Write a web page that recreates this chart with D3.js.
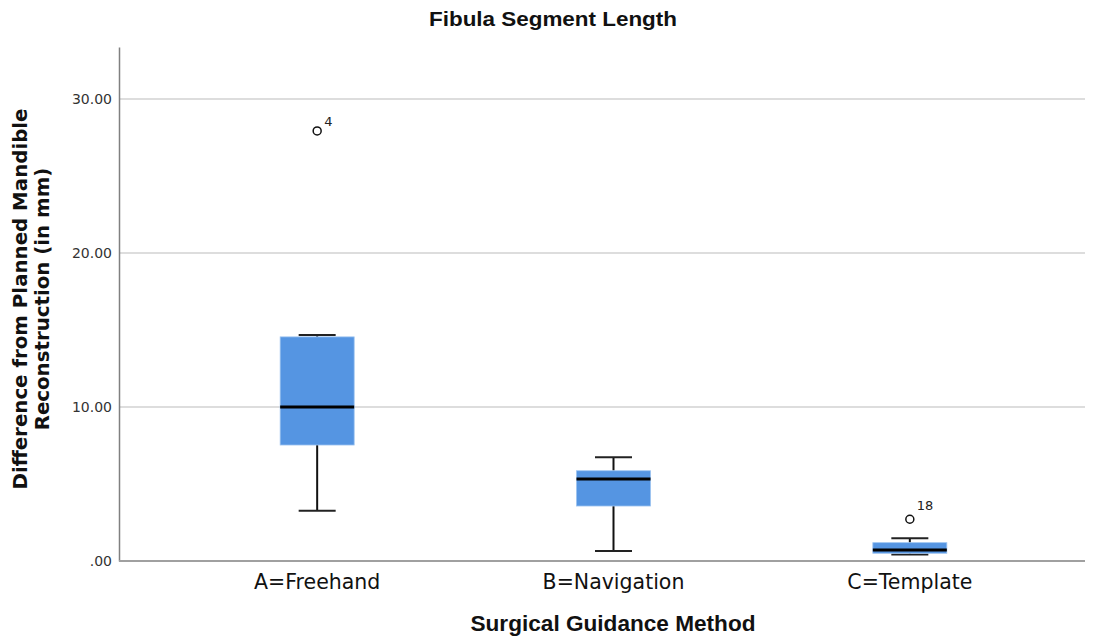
<!DOCTYPE html>
<html>
<head>
<meta charset="utf-8">
<script src="https://cdn.jsdelivr.net/npm/d3@7"></script>
<style>
  body { margin: 0; background: #fff; }
  svg { display: block; }
</style>
</head>
<body>
<svg id="chart" width="1100" height="639"></svg>
<script>
// Boxplot summary per guidance method (mm)
const categories = ["A=Freehand", "B=Navigation", "C=Template"];
const whiskerLow  = [3.27, 0.65, 0.43];
const quartile1   = [7.53, 3.57, 0.50];
const medians     = [10.0, 5.32, 0.71];
const quartile3   = [14.55, 5.86, 1.19];
const whiskerHigh = [14.68, 6.73, 1.47];
// Outliers: [category index, value, case label]
const outlierCat   = [0, 2];
const outlierVal   = [27.92, 2.71];
const outlierLabel = ["4", "18"];
const yTicks = [0, 10, 20, 30];

const svg = d3.select("#chart");
const plot = { left: 119, right: 1085, top: 47, bottom: 561 };

const y = d3.scaleLinear().domain([0, 33.37]).range([plot.bottom, plot.top]);
const x = d3.scaleBand().domain(categories).range([169, 1058]).paddingInner(0).paddingOuter(0);
const boxW = 74, capW = 37;
const cx = c => x(c) + x.bandwidth() / 2;

// gridlines
svg.append("g").selectAll("line").data(yTicks.filter(t => t > 0)).join("line")
  .attr("x1", plot.left).attr("x2", plot.right)
  .attr("y1", d => y(d)).attr("y2", d => y(d))
  .attr("stroke", "#d2d2d2").attr("stroke-width", 1.5);

// y axis
const yAxis = d3.axisLeft(y).tickValues(yTicks).tickSize(0).tickPadding(7)
  .tickFormat(d => d === 0 ? ".00" : d3.format(".2f")(d));
const gy = svg.append("g").attr("transform", `translate(${plot.left},0)`).call(yAxis);
gy.select(".domain").attr("stroke", "#808080").attr("stroke-width", 1.5);
gy.selectAll("text").attr("font-family", "DejaVu Sans").attr("font-size", 14).attr("fill", "#333");

// x axis line
svg.append("line").attr("x1", plot.left).attr("x2", plot.right)
  .attr("y1", plot.bottom).attr("y2", plot.bottom)
  .attr("stroke", "#a0a0a0").attr("stroke-width", 2);

// x tick labels
const xAxis = d3.axisBottom(x).tickSize(0).tickPadding(13);
const gx = svg.append("g").attr("transform", `translate(0,${plot.bottom})`).call(xAxis);
gx.select(".domain").remove();
gx.selectAll("text").attr("font-family", "DejaVu Sans").attr("font-size", 20.5).attr("fill", "#111");

// boxes
const idx = d3.range(categories.length);
const boxes = svg.append("g");
idx.forEach(i => {
  const c = cx(categories[i]);
  const g = boxes.append("g");
  // whisker stems
  g.append("line").attr("x1", c).attr("x2", c).attr("y1", y(whiskerLow[i])).attr("y2", y(quartile1[i]))
    .attr("stroke", "#111").attr("stroke-width", 2);
  g.append("line").attr("x1", c).attr("x2", c).attr("y1", y(quartile3[i])).attr("y2", y(whiskerHigh[i]))
    .attr("stroke", "#111").attr("stroke-width", 2);
  // caps
  [whiskerLow[i], whiskerHigh[i]].forEach(v => {
    g.append("line").attr("x1", c - capW / 2).attr("x2", c + capW / 2).attr("y1", y(v)).attr("y2", y(v))
      .attr("stroke", "#222").attr("stroke-width", 2);
  });
  // box
  g.append("rect").attr("x", c - boxW / 2).attr("width", boxW)
    .attr("y", y(quartile3[i])).attr("height", y(quartile1[i]) - y(quartile3[i]))
    .attr("fill", "#5595e2").attr("stroke", "#9cc3f0").attr("stroke-width", 0.8);
  // median
  g.append("line").attr("x1", c - boxW / 2).attr("x2", c + boxW / 2)
    .attr("y1", y(medians[i])).attr("y2", y(medians[i]))
    .attr("stroke", "#000").attr("stroke-width", 3);
});

// outliers
const labelLift = [5, 9];
outlierCat.forEach((ci, k) => {
  const c = cx(categories[ci]);
  svg.append("circle").attr("cx", c).attr("cy", y(outlierVal[k])).attr("r", 4)
    .attr("fill", "#fff").attr("stroke", "#111").attr("stroke-width", 1.5);
  svg.append("text").attr("x", c + 7).attr("y", y(outlierVal[k]) - labelLift[k])
    .attr("font-family", "DejaVu Sans").attr("font-size", 13).attr("fill", "#222")
    .text(outlierLabel[k]);
});

// titles
svg.append("text").attr("x", 553).attr("y", 26).attr("text-anchor", "middle")
  .attr("font-family", "Liberation Sans Narrow, Liberation Sans").attr("font-weight", "bold")
  .attr("font-size", 21).attr("textLength", 248).attr("lengthAdjust", "spacingAndGlyphs")
  .attr("fill", "#111").text("Fibula Segment Length");

svg.append("text").attr("x", 613).attr("y", 631).attr("text-anchor", "middle")
  .attr("font-family", "Liberation Sans Narrow, Liberation Sans").attr("font-weight", "bold")
  .attr("font-size", 22).attr("textLength", 285).attr("lengthAdjust", "spacingAndGlyphs")
  .attr("fill", "#111").text("Surgical Guidance Method");

const yt = svg.append("text").attr("transform", "translate(27,299) rotate(-90)")
  .attr("text-anchor", "middle").attr("font-family", "DejaVu Sans").attr("font-weight", "bold")
  .attr("font-size", 19.8).attr("fill", "#111");
yt.append("tspan").attr("x", 0).attr("dy", 0).text("Difference from Planned Mandible");
yt.append("tspan").attr("x", 0).attr("dy", 22).text("Reconstruction (in mm)");
</script>
</body>
</html>
